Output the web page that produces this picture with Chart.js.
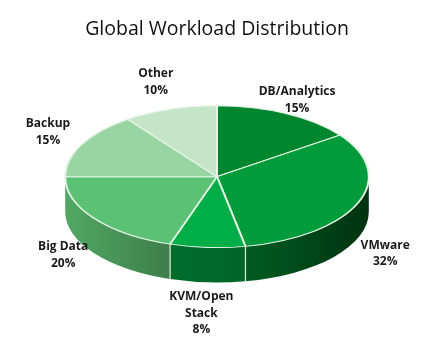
<!DOCTYPE html>
<html>
<head>
<meta charset="utf-8">
<script src="https://cdn.jsdelivr.net/npm/chart.js@4.4.1/dist/chart.umd.min.js"></script>
<style>
  html, body { margin: 0; padding: 0; background: #ffffff; }
  #wrap { width: 430px; height: 351px; }
</style>
</head>
<body>
<div id="wrap"><canvas id="pie"></canvas></div>
<script>
// Data (clockwise from 12 o'clock)
var categories = ['DB/Analytics', 'VMware', 'KVM/Open Stack', 'Big Data', 'Backup', 'Other'];
var shares = [15, 32, 8, 20, 15, 10];
var labelLines = [['DB/Analytics'], ['VMware'], ['KVM/Open', 'Stack'], ['Big Data'], ['Backup'], ['Other']];

// Colours: top face, then side wall [left, right]
var topColors = ['#00862f', '#009c3c', '#00ad46', '#5bc275', '#99d5a3', '#c4e5c8'];
var sideColors = [
    ['#006a25', '#004d1a'],
    ['#005d22', '#00320f'],
    ['#006d2b', '#006528'],
    ['#52a863', '#3d7d4a'],
    ['#7bb585', '#6a9f74'],
    ['#a6c9aa', '#95b899']
];

var TILT = 0.467;   // vertical squash of the pie
var DEPTH = 35;     // thickness of the pie wall

// Fake 3D: draw the front wall, then squash the library's arcs into an ellipse
var pie3d = {
    id: 'pie3d',
    beforeDatasetsDraw: function (chart) {
        var ctx = chart.ctx;
        var arcs = chart.getDatasetMeta(0).data;
        if (!arcs.length) return;
        var cx = arcs[0].x, cy = arcs[0].y, r = arcs[0].outerRadius;
        var ey = cy - DEPTH / 2, ry = r * TILT;

        arcs.forEach(function (arc, i) {
            // only the front half (0..PI) of the wall is visible
            var s = Math.max(arc.startAngle, 0);
            var e = Math.min(arc.endAngle, Math.PI);
            if (e <= s) return;
            var x1 = cx + r * Math.cos(s), x2 = cx + r * Math.cos(e);
            var g = ctx.createLinearGradient(Math.min(x1, x2), 0, Math.max(x1, x2), 0);
            g.addColorStop(0, sideColors[i][0]);
            g.addColorStop(1, sideColors[i][1]);
            ctx.beginPath();
            ctx.ellipse(cx, ey, r, ry, 0, s, e);
            ctx.ellipse(cx, ey + DEPTH, r, ry, 0, e, s, true);
            ctx.closePath();
            ctx.fillStyle = g;
            ctx.fill();
        });

        // light seams where slices meet on the wall
        ctx.strokeStyle = '#dcefdd';
        ctx.lineWidth = 1.2;
        arcs.forEach(function (arc) {
            var a = arc.startAngle;
            if (a <= 0 || a >= Math.PI) return;
            var x = cx + r * Math.cos(a), y = ey + ry * Math.sin(a);
            ctx.beginPath();
            ctx.moveTo(x, y);
            ctx.lineTo(x, y + DEPTH);
            ctx.stroke();
        });

        ctx.save();
        ctx.translate(cx, ey);
        ctx.scale(1, TILT);
        ctx.translate(-cx, -cy);
    },
    afterDatasetsDraw: function (chart) {
        var ctx = chart.ctx;
        ctx.restore();
        var arcs = chart.getDatasetMeta(0).data;
        if (!arcs.length) return;
        var cx = arcs[0].x, cy = arcs[0].y, r = arcs[0].outerRadius;
        var ey = cy - DEPTH / 2, ry = r * TILT;

        // labels sit on a wider, slightly tilted ellipse around the pie
        ctx.save();
        ctx.font = 'bold 12px "Open Sans"';
        ctx.fillStyle = '#1a1a1a';
        ctx.textAlign = 'center';
        ctx.textBaseline = 'middle';
        arcs.forEach(function (arc, i) {
            var m = (arc.startAngle + arc.endAngle) / 2;
            var lines = labelLines[i].concat([shares[i] + '%']);
            var lx = cx - 4 + r * 1.22 * Math.cos(m);
            var ly = ey + DEPTH * 0.6 + ry * 1.65 * Math.sin(m) + 14 * Math.cos(m);
            var lh = 16.5;
            lines.forEach(function (t, k) {
                ctx.fillText(t, lx, ly + (k - (lines.length - 1) / 2) * lh);
            });
        });
        ctx.restore();
    }
};

new Chart(document.getElementById('pie'), {
    type: 'pie',
    data: {
        labels: categories,
        datasets: [{
            data: shares,
            backgroundColor: topColors,
            borderColor: '#e3f3e4',
            borderWidth: 2
        }]
    },
    options: {
        responsive: true,
        maintainAspectRatio: false,
        animation: false,
        layout: { padding: { left: 4, top: 4, bottom: 4 } },
        plugins: {
            legend: { display: false },
            tooltip: { enabled: false },
            title: {
                display: true,
                text: 'Global Workload Distribution',
                color: '#111111',
                font: { family: 'Open Sans', size: 19.5, weight: 'normal' },
                padding: { top: 14, bottom: 0 }
            }
        }
    },
    plugins: [pie3d]
});
</script>
</body>
</html>
